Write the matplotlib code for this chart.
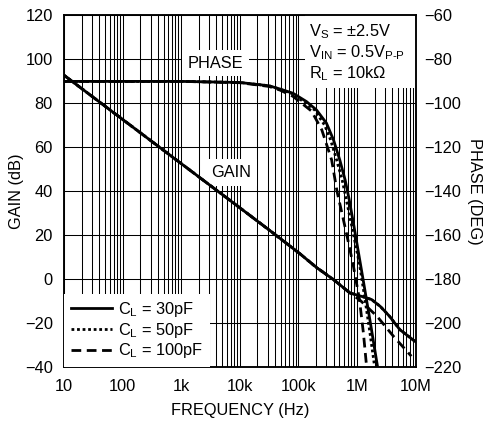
import matplotlib
matplotlib.use("Agg")
import matplotlib.pyplot as plt
from matplotlib.patches import Rectangle
from matplotlib.ticker import FixedLocator, NullFormatter

plt.rcParams['font.family'] = ['Liberation Sans', 'DejaVu Sans']
plt.rcParams['mathtext.fontset'] = 'custom'
plt.rcParams['mathtext.rm'] = 'Liberation Sans'
plt.rcParams['mathtext.it'] = 'Liberation Sans'

# gain (dB)
freq_gain_30 = [10, 100, 1e3, 1e4, 3.16e4, 1.07e5, 2.04e5, 3.98e5, 7.6e5, 1.29e6, 1.78e6, 2.5e6, 3.6e6, 5.4e6, 1e7]
gain_30 = [92.8, 72.7, 52.6, 32.5, 22.4, 11.5, 5.3, -0.2, -6.3, -8.1, -9.3, -12.4, -16.9, -23, -28.5]
freq_gain_50 = freq_gain_30
gain_50 = gain_30
freq_gain_100 = [10, 100, 1e3, 1e4, 3.16e4, 1.07e5, 2.04e5, 3.98e5, 7.6e5, 1.12e6, 2.2e6, 4.2e6, 8.5e6]
gain_100 = [92.8, 72.7, 52.6, 32.5, 22.4, 11.5, 5.3, -0.2, -6.3, -9.5, -16.9, -26, -35.1]

# phase (deg)
freq_ph_30 = [10, 1e3, 1e4, 3.16e4, 4.9e4, 8.1e4, 1.38e5, 2.04e5, 3.02e5, 3.98e5, 5.13e5, 6.31e5, 7.41e5, 8.91e5, 1.29e6, 1.7e6, 2.24e6]
phase_30 = [-90, -90, -90.5, -92, -93.5, -95.4, -99.2, -103, -109, -116.6, -126, -135, -144, -156, -181, -200, -219.6]
freq_ph_50 = [10, 1e3, 1e4, 3.16e4, 4.9e4, 8.1e4, 1.26e5, 1.9e5, 2.82e5, 3.55e5, 4.5e5, 5.62e5, 6.61e5, 8.65e5, 1.12e6, 1.37e6, 1.66e6, 2.0e6]
phase_50 = [-90, -90, -90.5, -92, -93.6, -95.7, -99.5, -103, -110, -116.6, -125.7, -135, -144, -159, -174, -189, -204, -219.6]
freq_ph_100 = [10, 1e3, 1e4, 3.16e4, 4.9e4, 8.1e4, 1.12e5, 1.68e5, 2.51e5, 3.7e5, 4.57e5, 6.61e5, 8.7e5, 1.1e6, 1.29e6, 1.46e6]
phase_100 = [-90, -90, -90.6, -92.3, -94, -96.8, -99.8, -103.5, -112, -125.7, -140, -159, -174, -189, -204.5, -219.6]

xticks = [10, 100, 1e3, 1e4, 1e5, 1e6, 1e7]
xtick_labels = ['10', '100', '1k', '10k', '100k', '1M', '10M']
gain_ticks = list(range(-40, 121, 20))
phase_ticks = list(range(-220, -59, 20))

fs = 11.8
fig = plt.figure(figsize=(4.89, 4.23), dpi=100)
ax = fig.add_axes([0.1309, 0.1324, 0.7188, 0.8310])
ax.set_xscale('log')
ax.set_xlim(10, 1e7)
ax.set_ylim(-40, 120)
ax.set_axisbelow(True)

minor = [m * 10 ** e for e in range(1, 7) for m in range(2, 10)]
ax.xaxis.set_major_locator(FixedLocator(xticks))
ax.xaxis.set_minor_locator(FixedLocator(minor))
ax.xaxis.set_minor_formatter(NullFormatter())
ax.set_xticklabels(xtick_labels)
ax.set_yticks(gain_ticks)
ax.set_yticklabels([str(t).replace('-', '\u2212') for t in gain_ticks])
ax.grid(True, which='both', axis='x', color='black', lw=0.75)
ax.grid(True, which='major', axis='y', color='black', lw=0.75)
ax.tick_params(which='both', length=0, labelsize=fs)
ax.tick_params(axis='x', pad=9)
ax.tick_params(axis='y', pad=8)
for s in ax.spines.values():
    s.set_linewidth(1.1)

lw = 2.0
ax.plot(freq_gain_100, gain_100, color='black', lw=lw, ls=(0, (3.5, 2)))
ax.plot(freq_gain_50, gain_50, color='black', lw=lw, ls=(0, (1, 1)))
ax.plot(freq_gain_30, gain_30, color='black', lw=lw)

ax.set_xlabel('FREQUENCY (Hz)', fontsize=fs, labelpad=6)
ax.set_ylabel('GAIN (dB)', fontsize=fs, labelpad=1)

# white boxes hiding the grid behind labels
ax.text(3.8e3, 98.3, 'PHASE', fontsize=fs, ha='center', va='center', zorder=1.8,
        bbox=dict(facecolor='white', edgecolor='none', pad=4))
ax.text(7.2e3, 48.5, 'GAIN', fontsize=fs, ha='center', va='center', zorder=1.8,
        bbox=dict(facecolor='white', edgecolor='none', pad=4))
ax.add_patch(Rectangle((0.687, 0.794), 0.313, 0.206, transform=ax.transAxes,
                       facecolor='white', edgecolor='none', zorder=1.5))
ax.text(0.697, 0.953, r'V$_\mathregular{S}$ = ±2.5V', transform=ax.transAxes,
        fontsize=fs, va='center', zorder=3)
ax.text(0.697, 0.893, r'V$_\mathregular{IN}$ = 0.5V$_\mathregular{P\text{-}P}$', transform=ax.transAxes,
        fontsize=fs, va='center', zorder=3)
ax.text(0.697, 0.835, r'R$_\mathregular{L}$ = 10k$\mathregular{\Omega}$', transform=ax.transAxes,
        fontsize=fs, va='center', zorder=3)

ax2 = ax.twinx()
ax2.set_ylim(-220, -60)
ax2.set_yticks(phase_ticks)
ax2.set_yticklabels([str(t).replace('-', '\u2212') for t in phase_ticks])
ax2.tick_params(length=0, labelsize=fs, pad=6)
ax2.set_ylabel('PHASE (DEG)', fontsize=fs, rotation=-90, labelpad=15)
for s in ax2.spines.values():
    s.set_linewidth(1.1)

l30, = ax2.plot(freq_ph_30, phase_30, color='black', lw=lw, label=r'C$_\mathregular{L}$ = 30pF')
l50, = ax2.plot(freq_ph_50, phase_50, color='black', lw=lw, ls=(0, (1, 1)), label=r'C$_\mathregular{L}$ = 50pF')
l100, = ax2.plot(freq_ph_100, phase_100, color='black', lw=lw, ls=(0, (3.5, 2)), label=r'C$_\mathregular{L}$ = 100pF')

leg = ax2.legend(handles=[l30, l50, l100], loc='lower left', bbox_to_anchor=(0, 0),
                 borderaxespad=0, frameon=True, fancybox=False, framealpha=1,
                 edgecolor='none', facecolor='white', fontsize=fs,
                 handlelength=2.5, handletextpad=0.4, labelspacing=0.1,
                 borderpad=0.4)

fig.savefig('out.png', dpi=100)
